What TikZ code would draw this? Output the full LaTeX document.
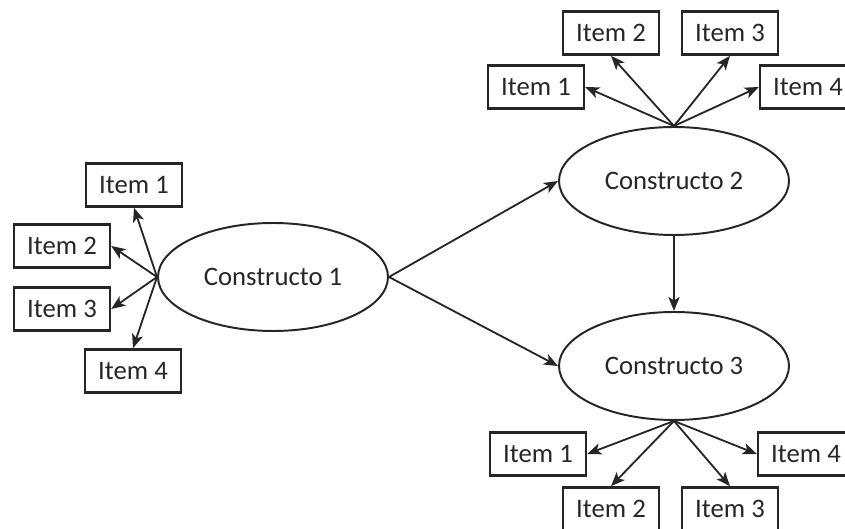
\documentclass[tikz,border=0pt]{standalone}
\usepackage{fontspec}
\setmainfont{Carlito}
\usepackage{tikz}
\usetikzlibrary{arrows.meta}
\usetikzlibrary{shapes.geometric}
\definecolor{ink}{HTML}{262626}

\begin{document}
\begin{tikzpicture}[>={Stealth[length=10pt,width=8pt,inset=2.5pt]}, line width=1.3pt, draw=ink, text=ink,
  every node/.style={font=\fontsize{19}{23}\selectfont},
  itembox/.style={draw, rectangle, line width=1.7pt, minimum width=2.4cm, minimum height=1.08cm, inner sep=0pt},
  construct/.style={draw, ellipse, line width=1.4pt, minimum width=5.75cm, minimum height=2.7cm, inner sep=0pt},]
\useasboundingbox (0,0) rectangle (21.125,13.225);
\node[construct] (1) at (6.825, 6.3) {Constructo 1};
\node[construct] (2) at (16.85, 8.7) {Constructo 2};
\node[construct] (3) at (16.85, 4.075) {Constructo 3};
\node[itembox] (11) at (3.35, 8.6) {Item 1};
\node[itembox] (12) at (1.55, 7.075) {Item 2};
\node[itembox] (13) at (1.55, 5.5) {Item 3};
\node[itembox] (14) at (3.325, 3.95) {Item 4};
\node[itembox] (21) at (13.4, 11.05) {Item 1};
\node[itembox] (22) at (15.275, 12.4) {Item 2};
\node[itembox] (23) at (18.25, 12.4) {Item 3};
\node[itembox] (24) at (20.2, 11.05) {Item 4};
\node[itembox] (31) at (13.45, 1.875) {Item 1};
\node[itembox] (32) at (15.275, 0.5) {Item 2};
\node[itembox] (33) at (18.25, 0.5) {Item 3};
\node[itembox] (34) at (20.15, 1.875) {Item 4};
   \draw [->] (1.west)--(11.south);
   \draw [->] (1.west)--(12.east);
   \draw [->] (1.west)--(13.east);
   \draw [->] (1.west)--(14.north);
   \draw [->] (2.north)--(21.east);
   \draw [->] (2.north)--(22.south);
   \draw [->] (2.north)--(23.south);
   \draw [->] (2.north)--(24.west);
   \draw [->] (3.south)--(31.east);
   \draw [->] (3.south)--(32.north);
   \draw [->] (3.south)--(33.north);
   \draw [->] (3.south)--(34.west);
  \draw [->] (1.east)--(2.west);
  \draw [->] (1.east)--(3.west);
  \draw [->] (2.south)--(3.north);
\end{tikzpicture}
\end{document}
